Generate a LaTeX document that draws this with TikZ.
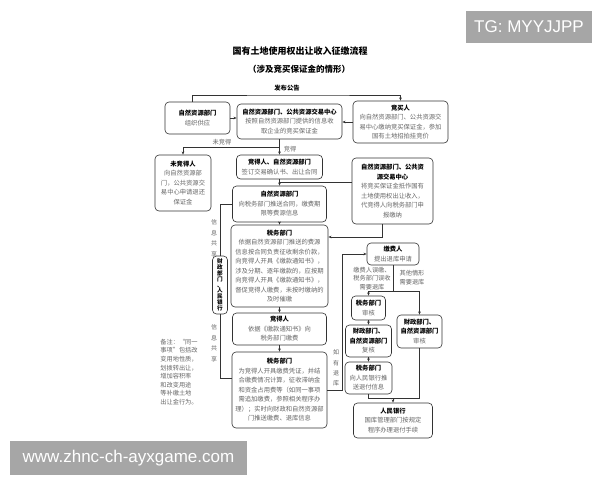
\documentclass[tikz,border=0pt]{standalone}
\usepackage{fontspec}
\setmainfont{Liberation Sans}
\newfontfamily\cjk{Noto Sans CJK SC}
\usetikzlibrary{arrows.meta}
\newcommand{\bhead}[1]{{\bfseries\color{black}#1}}

\begin{document}
\begin{tikzpicture}[
      x = 1pt,
      y = -1pt,
      flowbox/.style = {draw=black!80, line width=0.6pt, rounded corners=4pt, fill=white,
        align=center, inner xsep=0pt, inner ysep=1pt, text=black!60,
        font=\cjk\fontsize{6.3}{9.5}\selectfont},
      boxsize/.style 2 args = {text width=#1pt, minimum height=#2pt},
      link/.style = {draw=black!80, line width=0.6pt},
      arr/.style = {link, -{Stealth[length=3.2pt, width=2.6pt]}},
      tag/.style = {align=center, inner sep=0pt, text=black!60, font=\cjk\fontsize{6.2}{8.6}\selectfont},
      vtag/.style = {tag, font=\cjk\fontsize{6}{10.5}\selectfont},
      wmbox/.style = {fill=black!35, text=white, inner sep=0pt, font=\fontsize{17}{20}\selectfont},
  ]

  \fill [white] (0,0) rectangle (600,480);
  \useasboundingbox (0,0) rectangle (600,480);

  \node[font=\cjk\bfseries\fontsize{9}{11}\selectfont] (title) at (300,51) {国有土地使用权出让收入征缴流程};
  \node[font=\cjk\bfseries\fontsize{8.5}{11}\selectfont] (subtitle) at (299,69) {（涉及竞买保证金的情形）};

  % top row
  \node[flowbox, boxsize={65}{32}] (supply) at (197.5,118) {\bhead{自然资源部门}\\组织供应};
  \node[flowbox, boxsize={105}{35}] (deposit) at (289.5,121.5) {\bhead{自然资源部门、公共资源交易中心}\\按照自然资源部门提供的信息收\\取企业的竞买保证金};
  \node[flowbox, boxsize={95}{42}] (bidder) at (400.5,122) {\bhead{竞买人}\\向自然资源部门、公共资源交\\易中心缴纳竞买保证金，参加\\国有土地招拍挂竞价};

  % middle column
  \node[flowbox, boxsize={56}{56}] (loser) at (183,183) {\bhead{未竞得人}\\向自然资源部\\门，公共资源交\\易中心申请退还\\保证金};
  \node[flowbox, boxsize={86}{24}] (contract) at (279.5,167) {\bhead{竞得人、自然资源部门}\\签订交易确认书、出让合同};
  \node[flowbox, boxsize={81}{66}] (offset) at (392.5,191) {\bhead{自然资源部门、公共资}\\\bhead{源交易中心}\\将竞买保证金抵作国有\\土地使用权出让收入，\\代竞得人向税务部门申\\报缴纳};
  \node[flowbox, boxsize={94}{36}] (push) at (279.5,204) {\bhead{自然资源部门}\\向税务部门推送合同，缴费期\\限等费源信息};
  \node[flowbox, boxsize={97}{82}] (levy) at (279.5,266) {\bhead{税务部门}\\依据自然资源部门推送的费源\\信息按合同负责征收剩余价款，\\向竞得人开具《缴款通知书》，\\涉及分期、逐年缴款的，应按期\\向竞得人开具《缴款通知书》，\\督促竞得人缴费，未按时缴纳的\\及时催缴};
  \node[flowbox, boxsize={94}{32}] (pay) at (279.5,329) {\bhead{竞得人}\\依据《缴款通知书》向\\税务部门缴费};
  \node[flowbox, boxsize={95}{76}] (receipt) at (279.5,390) {\bhead{税务部门}\\为竞得人开具缴费凭证，并结\\合缴费情况计算，征收滞纳金\\和资金占用费等（如同一事项\\需追加缴费，参照相关程序办\\理）；实时向财政和自然资源部\\门推送缴费、退库信息};

  \node[flowbox, boxsize={15}{58}, text=black, font=\cjk\bfseries\fontsize{5.6}{5.8}\selectfont] (share) at (220,285) {财\\政\\部\\门\\、\\人\\民\\银\\行};
  \node[vtag] (shareup) at (214,238) {信\\息\\共\\享};
  \node[vtag] (sharedown) at (214,343) {信\\息\\共\\享};

  \node[tag, align=left] (note) at (179,372) {备注：“同一\\事项”包括改\\变用地性质，\\划拨转出让，\\增加容积率\\和改变用途\\等补缴土地\\出让金行为。};

  % refund branch
  \node[flowbox, boxsize={52}{22}] (refund) at (393,254) {\bhead{缴费人}\\提出退库申请};
  \node[flowbox, boxsize={34}{24}] (check) at (368.5,308) {\bhead{税务部门}\\审核};
  \node[flowbox, boxsize={46}{32}] (recheck) at (368.5,341) {\bhead{财政部门、}\\\bhead{自然资源部门}\\复核};
  \node[flowbox, boxsize={45}{33}] (finance) at (419.5,331.5) {\bhead{财政部门、}\\\bhead{自然资源部门}\\审核};
  \node[flowbox, boxsize={47}{32}] (notify) at (368.5,378) {\bhead{税务部门}\\向人民银行推\\送退付信息};
  \node[flowbox, boxsize={79}{35}] (bank) at (393,420.5) {\bhead{人民银行}\\国库管理部门按规定\\程序办理退付手续};

  \node[tag] (wronglbl) at (372,278.5) {缴费人误缴、\\税务部门误收\\需要退库};
  \node[tag] (otherlbl) at (412,277.5) {其他情形\\需要退库};
  \node[vtag, font=\cjk\fontsize{6}{10.3}\selectfont] (refundlbl) at (336,368) {如\\有\\退\\库};

  % connectors
  \coordinate (pub) at (300,95);
  \node[tag, text=black, font=\cjk\bfseries\fontsize{6.3}{8}\selectfont] (publbl) at (287,88.5) {发布公告};
  \draw[arr] ([xshift=-5.5pt]supply.north) |- (pub) -| (bidder.north);
  \draw[arr] (supply.east) -- (supply.east -| deposit.west);
  \draw[arr] (bidder.west) -- (bidder.west -| deposit.east);

  \coordinate (win) at (279.5,147);
  \node[tag] (loselbl) at (222,142) {未竞得};
  \node[tag] (winlbl) at (290,149) {竞得};
  \draw[link] (contract.north |- deposit.south) -- (win);
  \draw[arr] (win) -- (contract.north);
  \draw[arr] (win) -| (loser.north);

  \draw[arr] (contract.south) -- (push.north);
  \draw[link] (offset.west |- 0,182) -- (push.north |- 0,182);
  \draw[arr] ([xshift=-10.5pt]offset.south) |- (levy.east |- 0,237);
  \draw[arr] (push.south) -- (levy.north);
  \draw[arr] (levy.south) -- (pay.north);
  \draw[arr] (pay.south) -- (receipt.north);

  \draw[link] (push.west) -| (share.north);
  \draw[link] (share.south) |- (receipt.west |- 0,378);

  \coordinate (back) at (342,390);
  \draw[arr] (receipt.east |- back) -- (back) |- (refund.west);
  \coordinate (fork) at (393,291);
  \draw[link] (refund.south) -- (fork);
  \draw[arr] (fork) -| (check.north);
  \draw[arr] (fork) -| (finance.north);
  \draw[arr] (check.south) -- (recheck.north);
  \draw[arr] (recheck.south) -- (notify.north);
  \coordinate (merge) at (393,398);
  \draw[link] (notify.south) |- (merge);
  \draw[link] (finance.south) |- (merge);
  \draw[arr] (merge) -- (bank.north);

  % \node[wmbox] at (300,240) {};
  \node[wmbox, minimum width=126pt, minimum height=32pt] (tg) at (529,27) {TG: MYYJJPP};
  \node[wmbox, minimum width=237pt, minimum height=34pt] (site) at (128.5,458) {www.zhnc-ch-ayxgame.com};

\end{tikzpicture}
\end{document}
